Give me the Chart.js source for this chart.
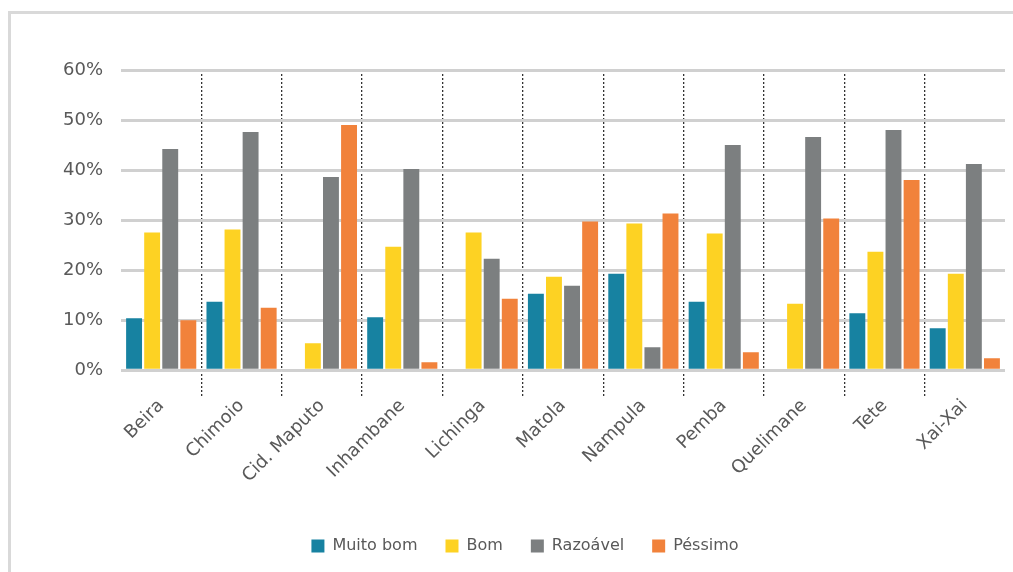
<!DOCTYPE html>
<html lang="pt">
<head>
  <meta charset="UTF-8" />
  <title>Avaliação por cidade</title>
  <script src="https://cdn.jsdelivr.net/npm/chart.js"></script>
  <style>
    * { box-sizing: border-box; }
    html, body {
      margin: 0;
      background: #ffffff;
      width: 1013px;
      height: 572px;
      overflow: hidden;
    }
    .chart-box {
      position: relative;
      width: 1013px;
      height: 572px;
    }
  </style>
</head>
<body>
  <div class="chart-box">
    <canvas id="barChart"></canvas>
  </div>

  <script>
    const cidades = ['Beira', 'Chimoio', 'Cid. Maputo', 'Inhambane', 'Lichinga', 'Matola',
                     'Nampula', 'Pemba', 'Quelimane', 'Tete', 'Xai-Xai'];
    const muitoBom = [10.4, 13.7, 0, 10.6, 0, 15.3, 19.3, 13.7, 0, 11.4, 8.4];
    const bom      = [27.5, 28.1, 5.4, 24.7, 27.5, 18.7, 29.3, 27.3, 13.3, 23.7, 19.3];
    const razoavel = [44.2, 47.6, 38.6, 40.2, 22.3, 16.9, 4.6, 45.0, 46.6, 48.0, 41.2];
    const pessimo  = [10.0, 12.5, 49.0, 1.6, 14.3, 29.7, 31.3, 3.6, 30.3, 38.0, 2.4];
    const yTicks = [0, 10, 20, 30, 40, 50, 60];

    const textColor = '#595959';
    const fontFamily = '"DejaVu Sans", sans-serif';

    // dotted separators only between categories, not at the outer edges
    const sepColor = ctx => (ctx.type !== 'tick' || ctx.index === 0) ? 'rgba(0,0,0,0)' : '#333333';

    // light grey frame on the left and top of the picture
    const framePlugin = {
      id: 'frame',
      beforeDraw(chart) {
        const c = chart.ctx;
        c.save();
        c.fillStyle = '#d9d9d9';
        c.fillRect(8, 11, 3, chart.height - 11);
        c.fillRect(8, 11, chart.width - 8, 3);
        c.restore();
      }
    };

    new Chart(document.getElementById('barChart'), {
      type: 'bar',
      data: {
        labels: cidades,
        datasets: [
          { label: 'Muito bom', data: muitoBom, backgroundColor: '#1782A1' },
          { label: 'Bom', data: bom, backgroundColor: '#FDD223' },
          { label: 'Razoável', data: razoavel, backgroundColor: '#7C7F80' },
          { label: 'Péssimo', data: pessimo, backgroundColor: '#F1823B' }
        ]
      },
      options: {
        responsive: true,
        maintainAspectRatio: false,
        animation: false,
        datasets: {
          bar: { categoryPercentage: 0.9, barPercentage: 0.88 }
        },
        layout: { padding: { top: 70, left: 45, right: 8, bottom: 8 } },
        scales: {
          x: {
            offset: true,
            grid: {
              offset: true,
              color: sepColor,
              lineWidth: 1.3,
              tickLength: 27,
              tickColor: sepColor,
              tickBorderDash: [2, 2]
            },
            border: { display: false, dash: [2, 2] },
            ticks: {
              color: textColor,
              font: { family: fontFamily, size: 18 },
              maxRotation: 45,
              minRotation: 45,
              padding: -2
            }
          },
          y: {
            min: 0,
            max: 60,
            afterBuildTicks: axis => { axis.ticks = yTicks.map(v => ({ value: v })); },
            grid: { color: '#d0d0d0', lineWidth: 3, drawTicks: false },
            border: { display: false },
            ticks: {
              color: textColor,
              font: { family: fontFamily, size: 18 },
              padding: 18,
              callback: v => v + '%'
            }
          }
        },
        plugins: {
          legend: {
            position: 'bottom',
            title: { display: true, text: '', font: { size: 1 }, padding: { top: 0, bottom: 24 } },
            labels: {
              color: textColor,
              font: { family: fontFamily, size: 16 },
              boxWidth: 13,
              boxHeight: 13,
              padding: 28
            }
          },
          tooltip: { enabled: false }
        }
      },
      plugins: [framePlugin]
    });
  </script>
</body>
</html>
